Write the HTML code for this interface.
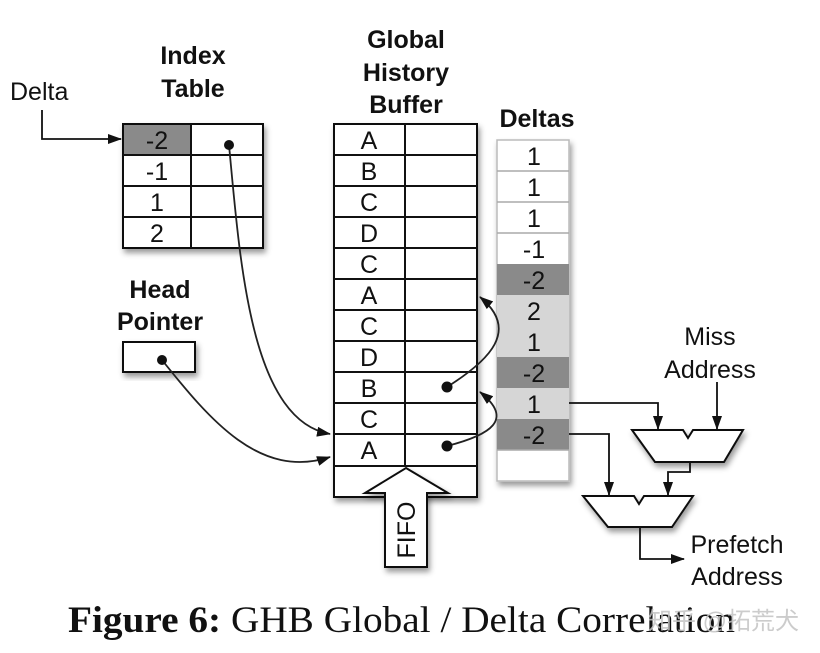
<!DOCTYPE html>
<html><head><style>
html,body{margin:0;padding:0;background:#fff;}
svg{display:block;}
text{font-family:"Liberation Sans",sans-serif;fill:#111;}
</style></head><body>
<svg width="820" height="653" viewBox="0 0 820 653" xmlns="http://www.w3.org/2000/svg">
<defs>
<filter id="sh" x="-20%" y="-20%" width="150%" height="150%">
<feDropShadow dx="2" dy="4" stdDeviation="3" flood-color="#000" flood-opacity="0.4"/>
</filter>
<marker id="ar2" markerWidth="14" markerHeight="10" refX="13" refY="5" orient="auto" markerUnits="userSpaceOnUse">
<path d="M0,0 L14,5 L0,10 Z" fill="#111"/>
</marker>
</defs>

<text x="10" y="100" font-size="25">Delta</text>
<g font-weight="bold" font-size="25" text-anchor="middle">
<text x="193" y="64">Index</text>
<text x="193" y="97">Table</text>
<text x="406" y="48">Global</text>
<text x="406" y="81">History</text>
<text x="406" y="113">Buffer</text>
<text x="537" y="127">Deltas</text>
<text x="160" y="298">Head</text>
<text x="160" y="330">Pointer</text>
</g>

<path d="M42,110 V139 H121" fill="none" stroke="#111" stroke-width="1.8" marker-end="url(#ar2)"/>

<g filter="url(#sh)">
<rect x="123" y="124" width="140" height="124" fill="#fff" stroke="#111" stroke-width="2"/>
</g>
<rect x="124" y="125" width="67" height="30" fill="#8a8a8a"/>
<g stroke="#111" stroke-width="2">
<line x1="191" y1="124" x2="191" y2="248"/>
<line x1="123" y1="155" x2="263" y2="155"/>
<line x1="123" y1="186" x2="263" y2="186"/>
<line x1="123" y1="217" x2="263" y2="217"/>
</g>
<g font-size="25" text-anchor="middle">
<text x="157" y="149">-2</text>
<text x="157" y="180">-1</text>
<text x="157" y="211">1</text>
<text x="157" y="242">2</text>
</g>

<g filter="url(#sh)"><rect x="123" y="342" width="72" height="30" fill="#fff" stroke="#111" stroke-width="2"/></g>

<g filter="url(#sh)">
<rect x="334" y="124" width="143" height="373" fill="#fff" stroke="#111" stroke-width="2"/>
</g>
<g stroke="#111" stroke-width="2">
<line x1="405" y1="124" x2="405" y2="466"/>
<line x1="334" y1="155" x2="477" y2="155"/>
<line x1="334" y1="186" x2="477" y2="186"/>
<line x1="334" y1="217" x2="477" y2="217"/>
<line x1="334" y1="248" x2="477" y2="248"/>
<line x1="334" y1="279" x2="477" y2="279"/>
<line x1="334" y1="310" x2="477" y2="310"/>
<line x1="334" y1="341" x2="477" y2="341"/>
<line x1="334" y1="372" x2="477" y2="372"/>
<line x1="334" y1="403" x2="477" y2="403"/>
<line x1="334" y1="434" x2="477" y2="434"/>
<line x1="334" y1="466" x2="477" y2="466"/>
</g>
<g font-size="25" text-anchor="middle">
<text x="369" y="149">A</text>
<text x="369" y="180">B</text>
<text x="369" y="211">C</text>
<text x="369" y="242">D</text>
<text x="369" y="273">C</text>
<text x="369" y="304">A</text>
<text x="369" y="335">C</text>
<text x="369" y="366">D</text>
<text x="369" y="397">B</text>
<text x="369" y="428">C</text>
<text x="369" y="459">A</text>
</g>

<g filter="url(#sh)">
<path d="M406,468 L448,493 L427,493 L427,567 L385,567 L385,493 L365,493 Z" fill="#fff" stroke="#111" stroke-width="2"/>
</g>
<text x="0" y="0" font-size="25" text-anchor="middle" transform="translate(415,530) rotate(-90)">FIFO</text>

<g filter="url(#sh)"><rect x="497" y="140" width="72" height="341" fill="#fff" stroke="#bbb" stroke-width="1.5"/></g>
<g stroke="none">
<rect x="497" y="264" width="72" height="31" fill="#8a8a8a"/>
<rect x="497" y="295" width="72" height="31" fill="#d6d6d6"/>
<rect x="497" y="326" width="72" height="31" fill="#d6d6d6"/>
<rect x="497" y="357" width="72" height="31" fill="#8a8a8a"/>
<rect x="497" y="388" width="72" height="31" fill="#d6d6d6"/>
<rect x="497" y="419" width="72" height="31" fill="#8a8a8a"/>
</g>
<g stroke="#aaa" stroke-width="1.5">
<line x1="497" y1="171" x2="569" y2="171"/>
<line x1="497" y1="202" x2="569" y2="202"/>
<line x1="497" y1="233" x2="569" y2="233"/>
<line x1="497" y1="450" x2="569" y2="450"/>
</g>
<g font-size="25" text-anchor="middle">
<text x="534" y="165">1</text>
<text x="534" y="196">1</text>
<text x="534" y="227">1</text>
<text x="534" y="258">-1</text>
<text x="534" y="289">-2</text>
<text x="534" y="320">2</text>
<text x="534" y="351">1</text>
<text x="534" y="382">-2</text>
<text x="534" y="413">1</text>
<text x="534" y="444">-2</text>
</g>

<g fill="none" stroke="#222" stroke-width="1.8">
<path d="M229,145 C240,260 250,420 330,434" marker-end="url(#ar2)"/>
<path d="M162,360 C210,420 260,480 330,457" marker-end="url(#ar2)"/>
<path d="M447,387 C490,360 520,330 480,297" marker-end="url(#ar2)"/>
<path d="M447,446 C490,435 515,420 480,392" marker-end="url(#ar2)"/>
</g>
<g fill="#111">
<circle cx="229" cy="145" r="5"/>
<circle cx="162" cy="360" r="5"/>
<circle cx="447" cy="387" r="5.5"/>
<circle cx="447" cy="446" r="5.5"/>
</g>

<g filter="url(#sh)" fill="#fff" stroke="#111" stroke-width="2">
<path d="M632,430 L683,430 L688,438 L693,430 L743,430 L724,462 L655,462 Z"/>
<path d="M583,496 L634,496 L639,504 L644,496 L693,496 L672,527 L608,527 Z"/>
</g>
<g fill="none" stroke="#111" stroke-width="1.8">
<path d="M569,403 H658 V429" marker-end="url(#ar2)"/>
<path d="M717,382 V429" marker-end="url(#ar2)"/>
<path d="M569,434 H609 V495" marker-end="url(#ar2)"/>
<path d="M690,462 V472 H668 V495" marker-end="url(#ar2)"/>
<path d="M640,527 V559 H684" marker-end="url(#ar2)"/>
</g>
<g font-size="25" text-anchor="middle">
<text x="710" y="345">Miss</text>
<text x="710" y="378">Address</text>
<text x="737" y="553">Prefetch</text>
<text x="737" y="585">Address</text>
</g>

<text x="68" y="632" font-size="37" textLength="667" lengthAdjust="spacingAndGlyphs" style="font-family:'Liberation Serif',serif"><tspan font-weight="bold">Figure 6:</tspan> GHB Global / Delta Correlation</text>
<text x="648" y="629" font-size="24" style="fill:#c4c4c4;font-family:'Liberation Sans','Noto Sans CJK SC',sans-serif" opacity="0.85">知乎 @拓荒犬</text>
</svg>
</body></html>
